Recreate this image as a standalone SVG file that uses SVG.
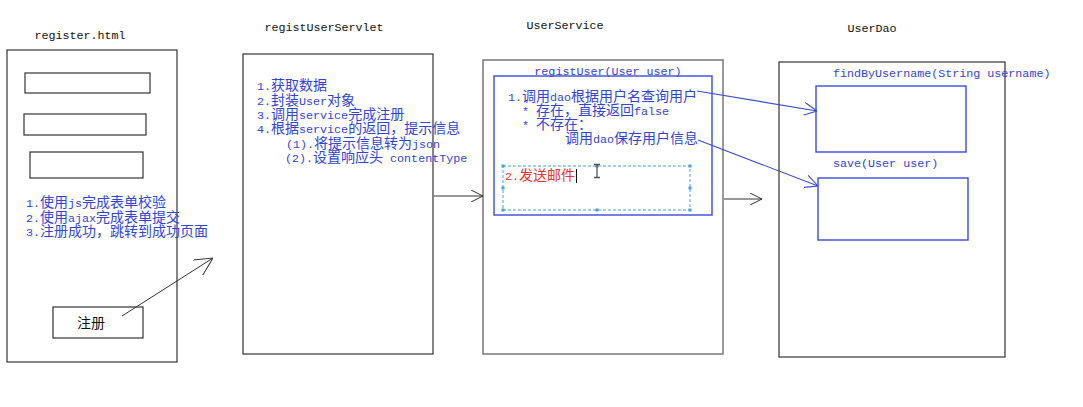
<svg xmlns="http://www.w3.org/2000/svg" width="1083" height="407" viewBox="0 0 1083 407">
<style>
.bg{fill:#fff}
.box{fill:#fff;stroke:#333;stroke-width:1.2}
.gbox{fill:#fff;stroke:#777;stroke-width:1.5}
.inp{fill:#fff;stroke:#333;stroke-width:1.2}
.bbox{fill:none;stroke:#3a4bd8;stroke-width:1.4}
.title{font-family:"Liberation Mono",monospace;font-size:11.7px;fill:#111}
.mono{font-family:"Liberation Mono",monospace;font-size:11.7px;fill:#3343d8}
.t{font-family:"Noto Sans CJK SC",sans-serif;font-size:14px;fill:#3343d8}
.a{font-family:"Liberation Mono",monospace;font-size:11.7px}
.red{fill:#e8352b}
.blk{fill:#111}
.cb{fill:none;stroke:#333;stroke-width:1}
.cbl{fill:none;stroke:#3a4bd8;stroke-width:1.1}
.dash{fill:none;stroke:#4aa0e0;stroke-width:1;stroke-dasharray:3 2}
.hd{fill:#4aa0e0}
</style>
<defs>
<marker id="ak" viewBox="0 0 12 12" refX="12" refY="6" markerWidth="12" markerHeight="12" orient="auto" markerUnits="userSpaceOnUse"><path d="M0,0 L12,6 L0,12" fill="none" stroke="#333" stroke-width="1"/></marker>
<marker id="akL" viewBox="0 0 18 18" refX="18" refY="9" markerWidth="18" markerHeight="18" orient="auto" markerUnits="userSpaceOnUse"><path d="M0,0 L18,9 L0,18" fill="none" stroke="#333" stroke-width="1"/></marker>
<marker id="ab" viewBox="0 0 12 12" refX="12" refY="6" markerWidth="13" markerHeight="13" orient="auto" markerUnits="userSpaceOnUse"><path d="M0,0 L12,6 L0,12" fill="none" stroke="#3a4bd8" stroke-width="1"/></marker>
</defs>
<rect class="bg" x="0" y="0" width="1083" height="407"/>

<g id="register">
<text class="title" x="80" y="39" text-anchor="middle">register.html</text>
<rect class="box" x="7" y="50" width="170" height="312"/>
<rect class="inp" x="25" y="73" width="125" height="20"/>
<rect class="inp" x="24" y="114" width="122" height="21"/>
<rect class="inp" x="30" y="152" width="113" height="26"/>
<text class="t" x="26" y="207"><tspan class="a">1.</tspan>使用<tspan class="a">js</tspan>完成表单校验</text>
<text class="t" x="26" y="221.5"><tspan class="a">2.</tspan>使用<tspan class="a">ajax</tspan>完成表单提交</text>
<text class="t" x="26" y="236"><tspan class="a">3.</tspan>注册成功，跳转到成功页面</text>
<rect class="inp" x="53" y="307" width="90" height="31"/>
<text class="t blk" x="91" y="328" text-anchor="middle">注册</text>
</g>

<g id="servlet">
<text class="title" x="324" y="31" text-anchor="middle">registUserServlet</text>
<rect class="box" x="243" y="54" width="190" height="300"/>
<text class="t" x="257" y="90"><tspan class="a">1.</tspan>获取数据</text>
<text class="t" x="257" y="104.5"><tspan class="a">2.</tspan>封装<tspan class="a">User</tspan>对象</text>
<text class="t" x="257" y="119"><tspan class="a">3.</tspan>调用<tspan class="a">service</tspan>完成注册</text>
<text class="t" x="257" y="133"><tspan class="a">4.</tspan>根据<tspan class="a">service</tspan>的返回，提示信息</text>
<text class="t" x="286" y="147.5"><tspan class="a">(1).</tspan>将提示信息转为<tspan class="a">json</tspan></text>
<text class="t" x="285" y="162"><tspan class="a">(2).</tspan>设置响应头<tspan class="a"> contentType</tspan></text>
</g>

<g id="service">
<text class="title" x="565" y="29" text-anchor="middle">UserService</text>
<rect class="gbox" x="483" y="60" width="240" height="294"/>
<text class="mono" x="608" y="75" text-anchor="middle">registUser(User user)</text>
<rect class="bbox" x="494" y="76" width="218" height="139"/>
<text class="t" x="508" y="101"><tspan class="a">1.</tspan>调用<tspan class="a">dao</tspan>根据用户名查询用户</text>
<text class="t" x="522" y="115"><tspan class="a">* </tspan>存在，直接返回<tspan class="a">false</tspan></text>
<text class="t" x="522" y="129"><tspan class="a">* </tspan>不存在：</text>
<text class="t" x="565" y="143">调用<tspan class="a">dao</tspan>保存用户信息</text>
<rect class="dash" x="503" y="166" width="187" height="44"/>
<g class="hd">
<rect x="501.5" y="164.5" width="3" height="3"/><rect x="595.5" y="164.5" width="3" height="3"/><rect x="688.5" y="164.5" width="3" height="3"/>
<rect x="501.5" y="186.5" width="3" height="3"/><rect x="688.5" y="186.5" width="3" height="3"/>
<rect x="501.5" y="208.5" width="3" height="3"/><rect x="595.5" y="208.5" width="3" height="3"/><rect x="688.5" y="208.5" width="3" height="3"/>
</g>
<text class="t red" x="505" y="180"><tspan class="a">2.</tspan>发送邮件</text>
<path d="M576.5,169 V183" stroke="#111" stroke-width="1"/>
<path d="M594,164.5 H600 M597,164.5 V177.5 M594,177.5 H600" stroke="#555" stroke-width="1.3" fill="none"/>
</g>

<g id="dao">
<text class="title" x="872" y="32" text-anchor="middle">UserDao</text>
<rect class="box" x="779" y="62" width="226" height="295"/>
<text class="mono" x="833" y="77">findByUsername(String username)</text>
<rect class="bbox" x="816" y="86" width="150" height="66"/>
<text class="mono" x="833" y="167">save(User user)</text>
<rect class="bbox" x="818" y="178" width="150" height="62"/>
</g>

<g id="connectors">
<path class="cb" d="M122,316 L213,258" marker-end="url(#akL)"/>
<path class="cb" d="M434,196 L483,196" marker-end="url(#ak)"/>
<path class="cb" d="M724,199 L762,199" marker-end="url(#ak)"/>
<path class="cbl" d="M697,91 L817,111" marker-end="url(#ab)"/>
<path class="cbl" d="M698,140 L818,186" marker-end="url(#ab)"/>
</g>
</svg>
